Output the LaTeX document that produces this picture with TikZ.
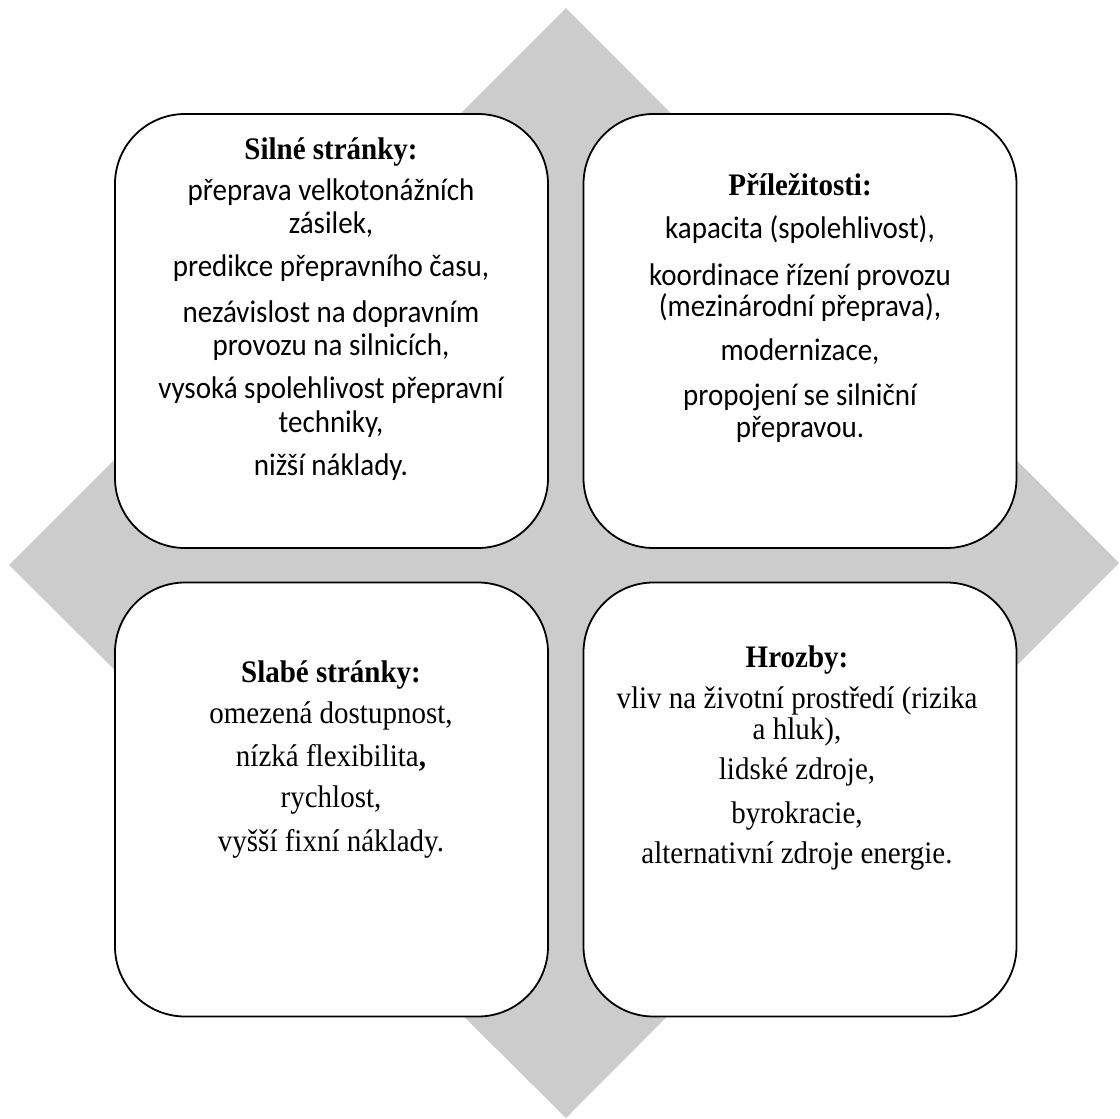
\documentclass[tikz,border=0pt]{standalone}
\usepackage{fontspec}
\usepackage{graphicx}
\setmainfont{Liberation Serif}
\newfontfamily\calibfont{Carlito}
\definecolor{diagray}{HTML}{CCCCCC}
\newcommand{\tallt}[1]{\scalebox{1}[1.08]{#1}}
\begin{document}
\begin{tikzpicture}[x=1pt,y=-1pt,
  quad/.style={draw=black, line width=1.8pt, fill=white, rounded corners=70pt,
    minimum width=433pt, minimum height=434pt, inner sep=0pt, outer sep=0pt},
  ser/.style={anchor=base, inner sep=0pt, font=\fontsize{29}{33}\selectfont},
  serb/.style={ser, font=\fontsize{29}{33}\selectfont\bfseries},
  cal/.style={anchor=base, inner sep=0pt, font=\calibfont\fontsize{29}{33}\selectfont}]
\useasboundingbox (0,0) rectangle (1120,1119);
% background diamond
\fill[diagray] (566,8) -- (1119,563) -- (566,1118) -- (9,565) -- cycle;
% four boxes
\node[quad] (S) at (331.5,331) {};
\node[quad] (O) at (800,331) {};
\node[quad] (W) at (331.5,799.5) {};
\node[quad] (T) at (800,799.5) {};
% Silné stránky
\node[serb] (s0) at (331,159) {\tallt{Silné stránky:}};
\node[cal] (s1) at (331,200) {\tallt{přeprava velkotonážních}};
\node[cal] (s2) at (331,233) {\tallt{zásilek,}};
\node[cal] (s3) at (331,276) {\tallt{predikce přepravního času,}};
\node[cal] (s4) at (331,322) {\tallt{nezávislost na dopravním}};
\node[cal] (s5) at (331,355) {\tallt{provozu na silnicích,}};
\node[cal] (s6) at (331,398) {\tallt{vysoká spolehlivost přepravní}};
\node[cal] (s7) at (331,432) {\tallt{techniky,}};
\node[cal] (s8) at (331,475) {\tallt{nižší náklady.}};
% Příležitosti
\node[serb] (o0) at (800,195) {\tallt{Příležitosti:}};
\node[cal] (o1) at (800,238) {\tallt{kapacita (spolehlivost),}};
\node[cal] (o2) at (800,285) {\tallt{koordinace řízení provozu}};
\node[cal] (o3) at (800,316) {\tallt{(mezinárodní přeprava),}};
\node[cal] (o4) at (800,360) {\tallt{modernizace,}};
\node[cal] (o5) at (800,405) {\tallt{propojení se silniční}};
\node[cal] (o6) at (800,437) {\tallt{přepravou.}};
% Slabé stránky
\node[serb] (w0) at (331,682) {\tallt{Slabé stránky:}};
\node[ser] (w1) at (331,723) {\tallt{omezená dostupnost,}};
\node[ser] (w2) at (331,766) {\tallt{nízká flexibilita\textbf{,}}};
\node[ser] (w3) at (331,807) {\tallt{rychlost,}};
\node[ser] (w4) at (331,851) {\tallt{vyšší fixní náklady.}};
% Hrozby
\node[serb] (t0) at (797,667) {\tallt{Hrozby:}};
\node[ser] (t1) at (797,708) {\tallt{vliv na životní prostředí (rizika}};
\node[ser] (t2) at (797,739) {\tallt{a hluk),}};
\node[ser] (t3) at (797,779) {\tallt{lidské zdroje,}};
\node[ser] (t4) at (797,823) {\tallt{byrokracie,}};
\node[ser] (t5) at (797,863) {\tallt{alternativní zdroje energie.}};
\end{tikzpicture}
\end{document}
